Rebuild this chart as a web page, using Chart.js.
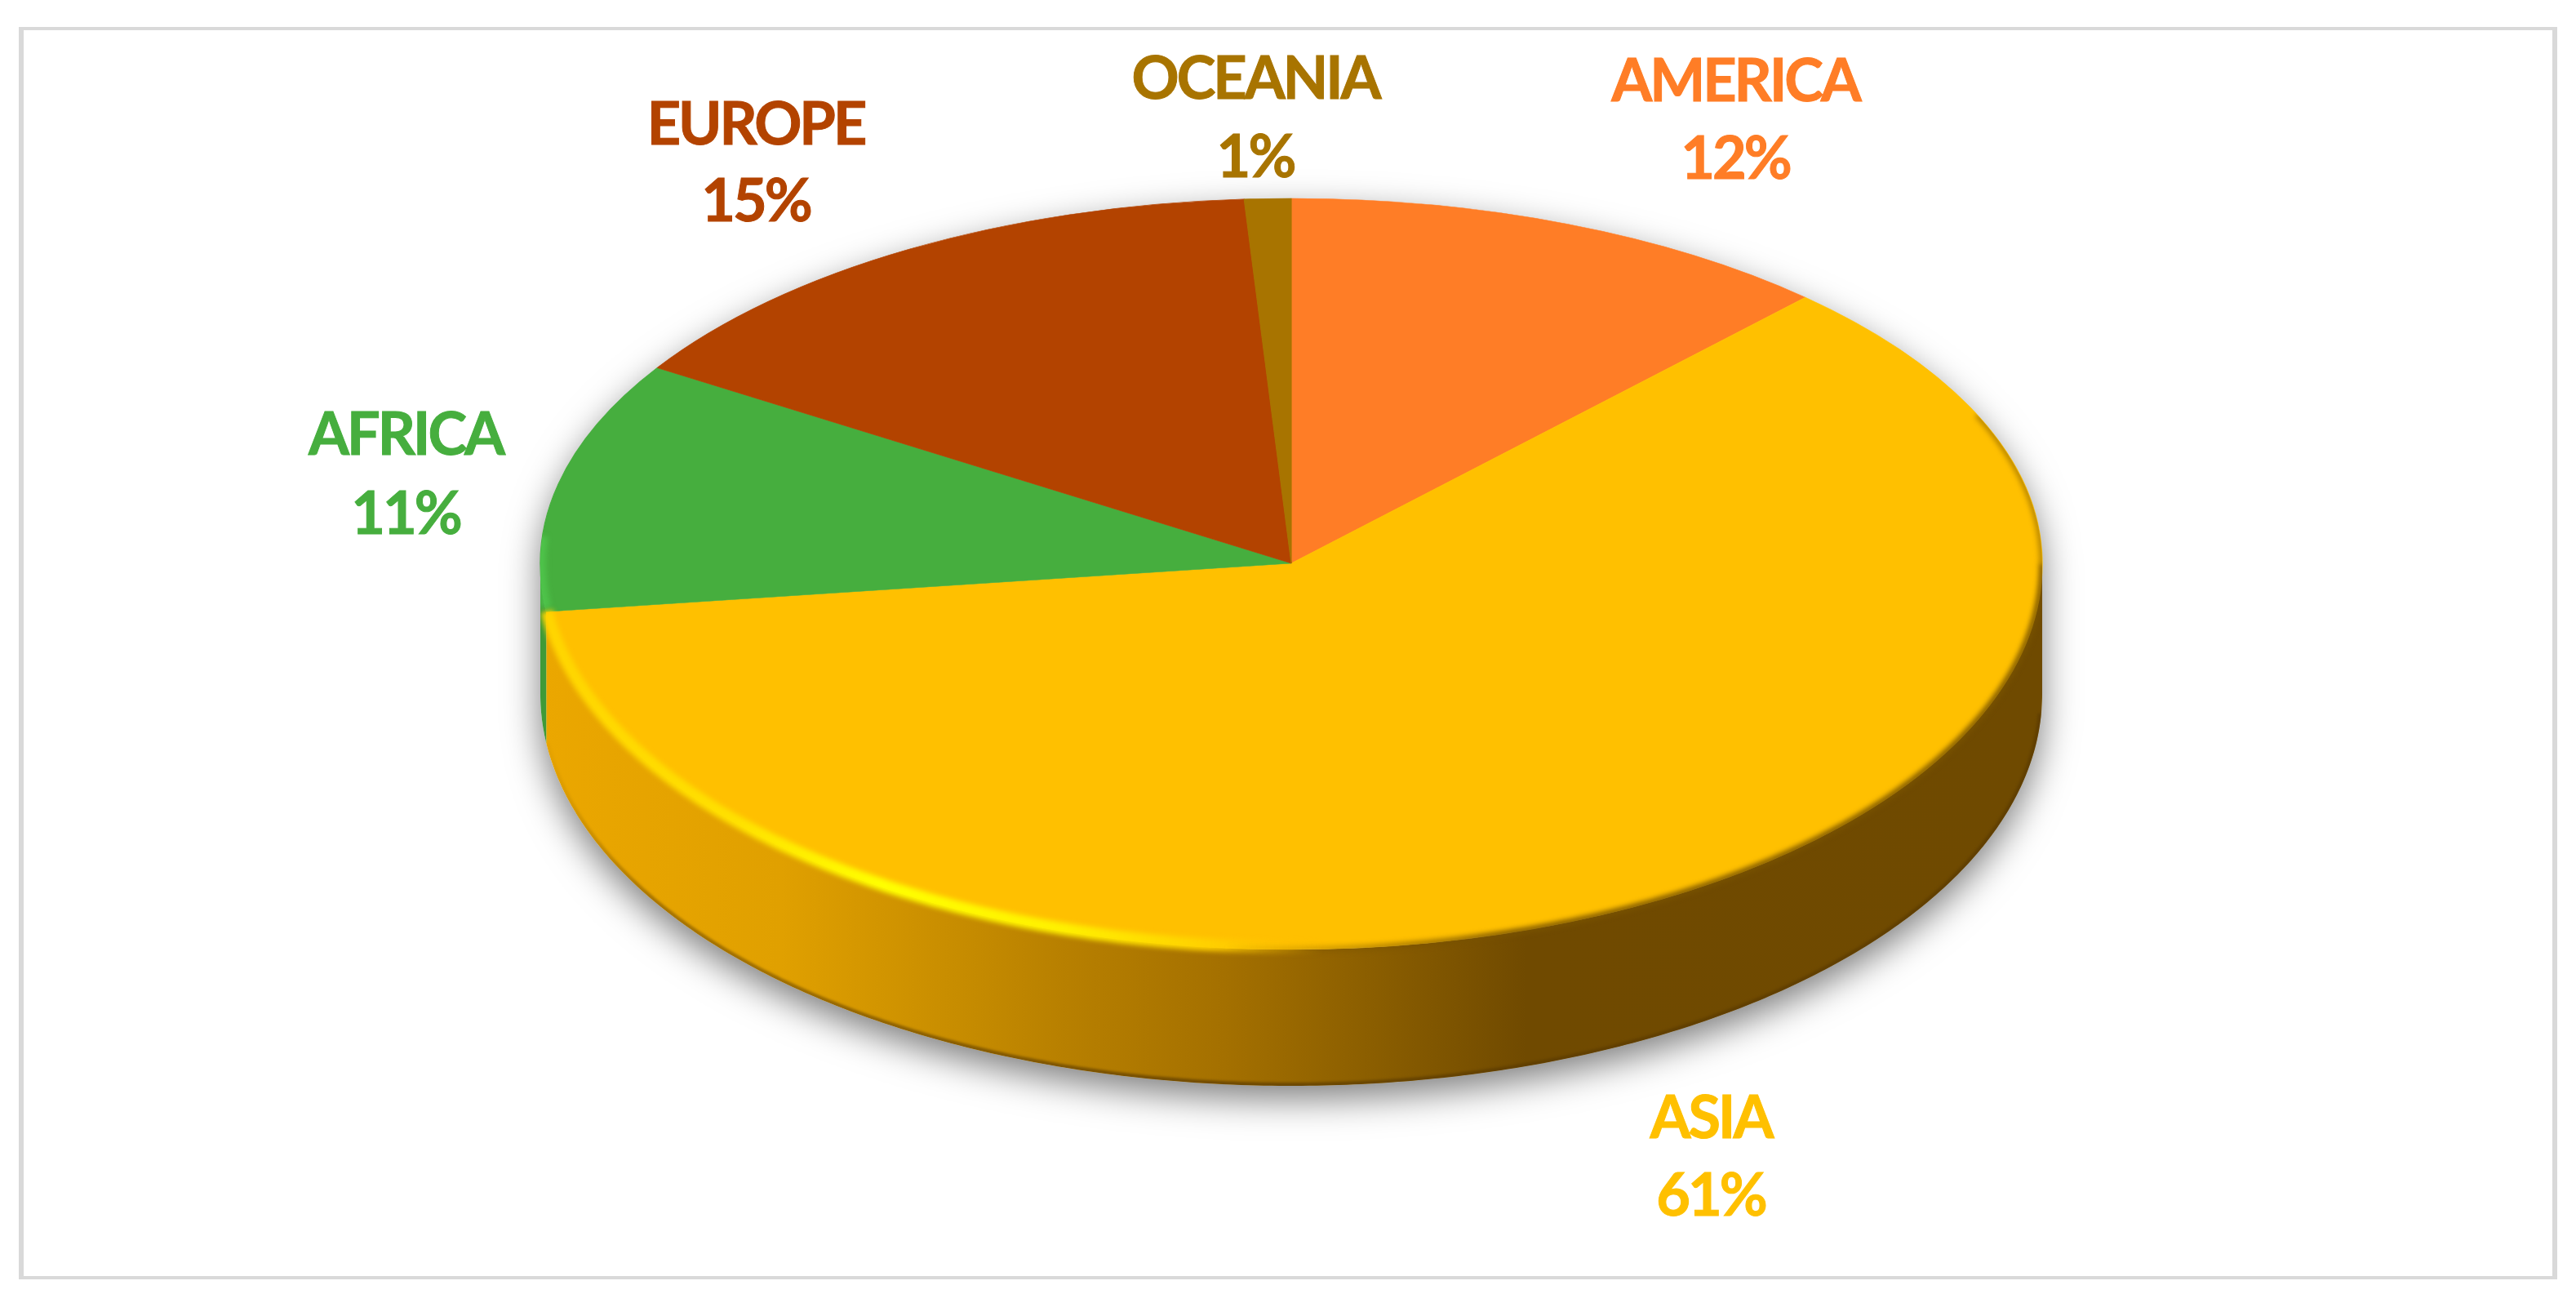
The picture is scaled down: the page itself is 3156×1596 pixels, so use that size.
<!DOCTYPE html>
<html>
<head>
<meta charset="utf-8">
<title>Continents pie</title>
<script src="https://cdn.jsdelivr.net/npm/chart.js@4"></script>
<style>
  html, body { margin: 0; padding: 0; background: #fff; }
  canvas { display: block; }
</style>
</head>
<body>
<canvas id="myChart1" width="3156" height="1596"></canvas>
<script>
// data
const continents = ['AMERICA', 'ASIA', 'AFRICA', 'EUROPE', 'OCEANIA'];
const shares = [12, 61, 11, 15, 1];

// colours, same order as continents
const sliceColors = ['#FF7D26', '#FFC000', '#46AE3E', '#B34300', '#A87400'];
const sideColors = ['#8a4a10', null, '#3F9A38', '#7a3000', '#705000'];

// label centres: [x, name y, percent y]
const labelPos = [
    [2126, 101, 196],
    [2096, 1371, 1466],
    [497, 534, 631],
    [926, 154, 248],
    [1538, 98, 194]
];

// look of the tilted disc
const disc = { cx: 1582, cy: 690, rx: 920, ryBack: 447, ryFront: 473, depth: 160, ryBottom: 480 };

// walk along the rim between two canvas angles
function rim(ctx, a0, a1, dy, ryFront, first) {
    const steps = Math.max(2, Math.ceil(Math.abs(a1 - a0) / 0.01));
    for (let i = 0; i <= steps; i++) {
        const a = a0 + (a1 - a0) * i / steps;
        const s = Math.sin(a);
        const x = disc.cx + disc.rx * Math.cos(a);
        const y = disc.cy + dy + (s > 0 ? ryFront : disc.ryBack) * s;
        if (i === 0 && first) ctx.moveTo(x, y); else ctx.lineTo(x, y);
    }
}

// whole outline of the disc with its wall
function outline(ctx) {
    ctx.beginPath();
    rim(ctx, 0, Math.PI, disc.depth, disc.ryBottom, true);
    rim(ctx, Math.PI, 2 * Math.PI, 0, disc.ryFront, false);
    ctx.closePath();
}

function hGradient(ctx, stops) {
    const g = ctx.createLinearGradient(662, 0, 2503, 0);
    stops.forEach(function (p) {
        g.addColorStop((p[0] - 662) / 1841, p[1]);
    });
    return g;
}

const wallStops = [[662, '#EBA700'], [957, '#E0A000'], [1200, '#C48A00'], [1300, '#B88000'],
                   [1500, '#A47000'], [1700, '#885C00'], [1870, '#704A00'], [2503, '#6F4A00']];
const glowStops = [[662, '#FFD400'], [900, '#FFE000'], [1080, '#FFFF00'], [1300, '#FFF000'],
                   [1480, '#FFD000'], [1620, 'rgba(255,192,0,0)'], [2503, 'rgba(255,192,0,0)']];
const darkStops = [[662, 'rgba(120,82,0,0)'], [1500, 'rgba(120,82,0,0)'], [1850, 'rgba(120,82,0,1)'],
                   [2503, 'rgba(120,82,0,1)']];
const footStops = [[662, 'rgba(90,58,0,0)'], [800, 'rgba(90,58,0,0.45)'], [1500, 'rgba(90,58,0,0.7)'],
                   [2503, 'rgba(90,58,0,0.7)']];

const tiltedPie = {
    id: 'tiltedPie',
    beforeDraw: function (chart) {
        const ctx = chart.ctx;
        ctx.save();
        ctx.fillStyle = '#fff';
        ctx.fillRect(0, 0, chart.width, chart.height);
        ctx.fillStyle = '#D9D9D9';
        ctx.fillRect(23, 33, 3110, 4);
        ctx.fillRect(23, 1563, 3110, 4);
        ctx.fillRect(23, 33, 6, 1534);
        ctx.fillRect(3127, 33, 6, 1534);
        ctx.restore();
    },
    beforeDatasetDraw: function (chart) {
        const ctx = chart.ctx;
        const arcs = chart.getDatasetMeta(0).data;

        // soft shadow under the disc
        ctx.save();
        ctx.shadowColor = 'rgba(0,0,0,0.5)';
        ctx.shadowBlur = 44;
        ctx.shadowOffsetY = 16;
        ctx.fillStyle = '#fff';
        outline(ctx);
        ctx.fill();
        ctx.restore();

        // side wall, only the part of each slice that faces us
        ctx.save();
        arcs.forEach(function (arc, i) {
            const a0 = Math.max(arc.startAngle, 0);
            const a1 = Math.min(arc.endAngle, Math.PI);
            if (a1 <= a0) return;
            ctx.beginPath();
            rim(ctx, a0, a1, 0, disc.ryFront, true);
            rim(ctx, a1, a0, disc.depth, disc.ryBottom, false);
            ctx.closePath();
            ctx.fillStyle = sideColors[i] || hGradient(ctx, wallStops);
            ctx.fill();
        });
        // dark line at the foot of the wall
        outline(ctx);
        ctx.clip();
        ctx.filter = 'blur(1.5px)';
        ctx.beginPath();
        rim(ctx, 0.05, arcs[1].endAngle, disc.depth, disc.ryBottom, true);
        ctx.strokeStyle = hGradient(ctx, footStops);
        ctx.lineWidth = 8;
        ctx.stroke();
        ctx.restore();

        // top face, stretched separately behind and in front of the centre
        const a = arcs[0];
        const passes = [[0, disc.cy, disc.ryBack], [disc.cy, chart.height - disc.cy, disc.ryFront]];
        passes.forEach(function (p) {
            ctx.save();
            ctx.beginPath();
            ctx.rect(0, p[0], chart.width, p[1]);
            ctx.clip();
            ctx.translate(disc.cx, disc.cy);
            ctx.scale(disc.rx / a.outerRadius, p[2] / a.outerRadius);
            ctx.translate(-a.x, -a.y);
            arcs.forEach(function (arc) { arc.draw(ctx); });
            ctx.restore();
        });

        // bevel: bright on the left of the front rim, dark on the right
        ctx.save();
        outline(ctx);
        ctx.clip();
        ctx.filter = 'blur(3px)';
        ctx.strokeStyle = hGradient(ctx, glowStops);
        ctx.lineWidth = 15;
        ctx.beginPath();
        rim(ctx, Math.PI * 0.3, arcs[1].endAngle - 0.005, -3, disc.ryFront, true);
        ctx.stroke();
        ctx.strokeStyle = hGradient(ctx, darkStops);
        ctx.lineWidth = 7;
        ctx.beginPath();
        rim(ctx, 0, Math.PI * 0.6, 0, disc.ryFront, true);
        ctx.stroke();
        ctx.strokeStyle = 'rgba(110,74,0,0.5)';
        ctx.lineWidth = 7;
        ctx.beginPath();
        rim(ctx, -0.42, 0, 0, disc.ryFront, true);
        ctx.stroke();
        ctx.strokeStyle = 'rgba(85,215,85,0.5)';
        ctx.lineWidth = 14;
        ctx.beginPath();
        rim(ctx, arcs[2].startAngle + 0.01, arcs[2].startAngle + 0.2, 0, disc.ryFront, true);
        ctx.stroke();
        ctx.restore();
        return false;
    },
    afterDatasetsDraw: function (chart) {
        const ctx = chart.ctx;
        ctx.save();
        ctx.font = 'bold 72px Lato';
        ctx.textAlign = 'center';
        ctx.textBaseline = 'middle';
        ctx.letterSpacing = '-3px';
        ctx.lineWidth = 1;
        continents.forEach(function (name, i) {
            ctx.fillStyle = sliceColors[i];
            ctx.strokeStyle = sliceColors[i];
            ctx.fillText(name, labelPos[i][0], labelPos[i][1]);
            ctx.strokeText(name, labelPos[i][0], labelPos[i][1]);
            ctx.fillText(shares[i] + '%', labelPos[i][0], labelPos[i][2]);
            ctx.strokeText(shares[i] + '%', labelPos[i][0], labelPos[i][2]);
        });
        ctx.restore();
    }
};

const ctx = document.getElementById('myChart1');
const myChart1 = new Chart(ctx, {
    type: 'pie',
    data: {
        labels: continents,
        datasets: [{
            data: shares,
            backgroundColor: sliceColors,
            borderColor: sliceColors,
            borderWidth: 1
        }]
    },
    options: {
        responsive: false,
        animation: false,
        devicePixelRatio: 1,
        plugins: {
            legend: { display: false },
            tooltip: { enabled: false }
        }
    },
    plugins: [tiltedPie]
});
</script>
</body>
</html>
